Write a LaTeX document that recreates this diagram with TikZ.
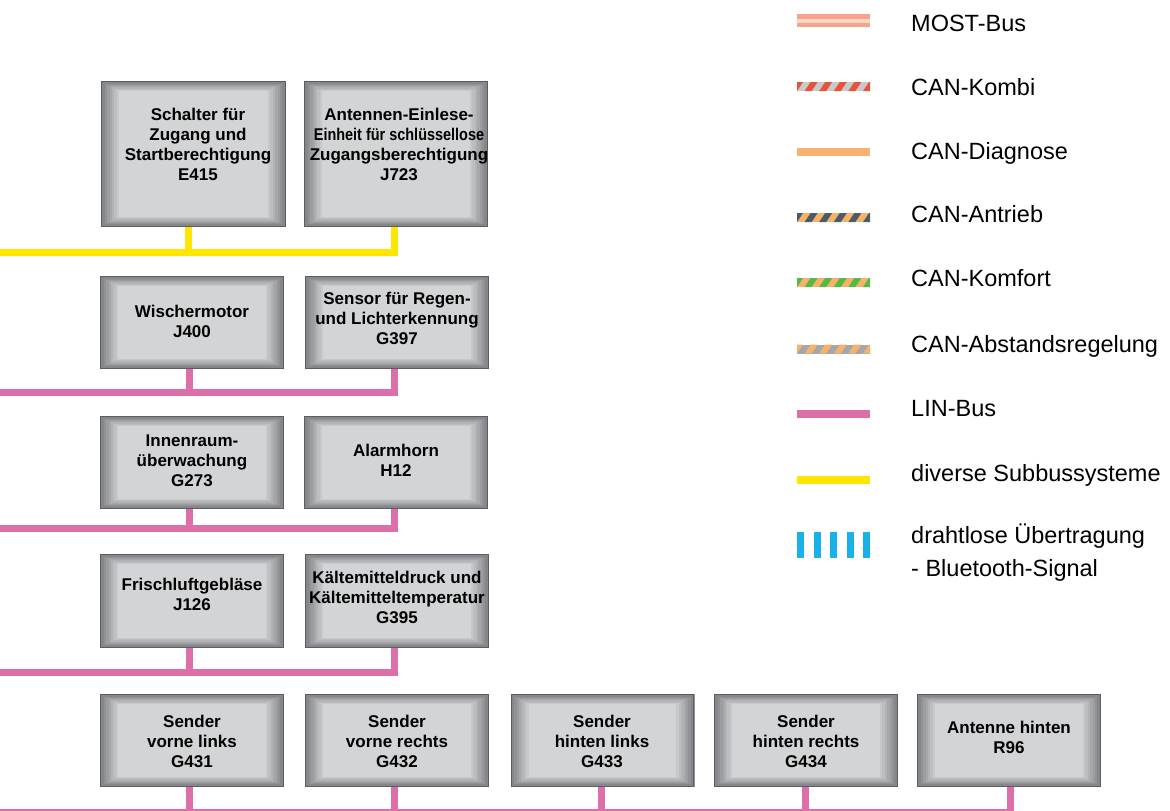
\documentclass[tikz,border=0pt]{standalone}
\usepackage{fontspec}
\setmainfont{Liberation Sans}
\usetikzlibrary{calc}
\definecolor{boxedge}{HTML}{5C5D60}
\definecolor{bevdark}{HTML}{86878A}
\definecolor{boxin}{HTML}{D3D4D6}
\definecolor{linpink}{HTML}{DC6EAA}
\definecolor{subyellow}{HTML}{FFE600}
\definecolor{mostsal}{HTML}{F4A48B}
\definecolor{mostlight}{HTML}{FBD5C8}
\definecolor{kombired}{HTML}{E5533D}
\definecolor{kombigray}{HTML}{C9C9C9}
\definecolor{canorange}{HTML}{F4B26A}
\definecolor{diagorange}{HTML}{F7B36F}
\definecolor{antdark}{HTML}{4E5A66}
\definecolor{komgreen}{HTML}{55B848}
\definecolor{absgray}{HTML}{A3A7AD}
\definecolor{btblue}{HTML}{18B2E8}
\newcommand{\stripesw}[3]{%
  \begin{scope}
    \clip (797,#1-4.5) rectangle (870,#1+4.5);
    \fill[#2] (797,#1-4.5) rectangle (870,#1+4.5);
    \foreach \s in {0,...,6}
      \fill[#3] (790+\s*14.6,#1+4.5) -- ++(7,0) -- ++(6,-9) -- ++(-7,0) -- cycle;
  \end{scope}}
\tikzset{
  ecu/.style={minimum width=184pt, minimum height=93pt, inner sep=0pt,
    path picture={
      \fill[boxedge] (path picture bounding box.south west) rectangle (path picture bounding box.north east);
      \foreach \i [evaluate=\i as \p using int(\i*100/7)] in {0,...,7}{
        \fill[boxin!\p!bevdark]
          ([shift={(1.3pt+\i*2.4pt,1.3pt+\i*1.25pt)}]path picture bounding box.south west) rectangle
          ([shift={(-1.3pt-\i*2.4pt,-1.3pt-\i*1.25pt)}]path picture bounding box.north east);
      }
    }},
  boxtxt/.style={font=\bfseries\fontsize{17}{20}\selectfont, align=center, inner sep=0pt},
  legtxt/.style={font=\fontsize{23.5}{33}\selectfont, anchor=base west, inner sep=0pt},
  linbus/.style={draw=linpink, line width=7pt, line join=miter},
  subbus/.style={draw=subyellow, line width=7pt, line join=miter}
}
\begin{document}
\begin{tikzpicture}[x=1pt,y=-1pt]
\useasboundingbox (0,0) rectangle (1170,811);
\fill[white] (0,0) rectangle (1170,811);

% ---------- boxes ----------
\node[ecu, minimum width=185pt, minimum height=146pt] (A1) at (193.5,154) {};
\node[ecu, minimum height=146pt] (A2) at (396,154) {};
\node[ecu] (B1) at (192,322.5) {};
\node[ecu] (B2) at (397,322.5) {};
\node[ecu] (C1) at (192,462.5) {};
\node[ecu] (C2) at (396,462.5) {};
\node[ecu, minimum height=94pt] (D1) at (192,601) {};
\node[ecu, minimum height=94pt] (D2) at (397,601) {};
\node[ecu] (E1) at (192,740.5) {};
\node[ecu] (E2) at (397,740.5) {};
\node[ecu] (E3) at (602.5,740.5) {};
\node[ecu] (E4) at (806,740.5) {};
\node[ecu] (E5) at (1009,740.5) {};

% ---------- box texts ----------
\node[boxtxt] (tA1) at (198,144) {Schalter für\\Zugang und\\Startberechtigung\\E415};
\node[boxtxt] (tA2) at (399,144) {Antennen-Einlese-\\\scalebox{0.85}[1]{Einheit für schlüssellose}\\Zugangsberechtigung\\J723};
\node[boxtxt] (tB1) at (192,321) {Wischermotor\\J400};
\node[boxtxt] (tB2) at (397,318) {Sensor für Regen-\\und Lichterkennung\\G397};
\node[boxtxt] (tC1) at (192,461) {Innenraum-\\überwachung\\G273};
\node[boxtxt] (tC2) at (396,460) {Alarmhorn\\H12};
\node[boxtxt] (tD1) at (192,594) {Frischluftgebläse\\J126};
\node[boxtxt] (tD2) at (397,597) {Kältemitteldruck und\\Kältemitteltemperatur\\G395};
\node[boxtxt] (tE1) at (192,741) {Sender\\vorne links\\G431};
\node[boxtxt] (tE2) at (397,741) {Sender\\vorne rechts\\G432};
\node[boxtxt] (tE3) at (602,741) {Sender\\hinten links\\G433};
\node[boxtxt] (tE4) at (806,741) {Sender\\hinten rechts\\G434};
\node[boxtxt] (tE5) at (1009,737) {Antenne hinten\\R96};

% ---------- buses ----------
\coordinate (busA) at (0,252.5);
\coordinate (busB) at (0,392.5);
\coordinate (busC) at (0,528.5);
\coordinate (busD) at (0,672.5);
\coordinate (busE) at (0,812);

\draw[subbus] (busA) -| ([xshift=-2pt]A2.south);
\draw[subbus] ([xshift=-5.5pt]A1.south) -- ([xshift=-5.5pt]A1.south |- busA);

\draw[linbus] (busB) -| ([xshift=-3pt]B2.south);
\draw[linbus] ([xshift=-3pt]B1.south) -- ([xshift=-3pt]B1.south |- busB);

\draw[linbus] (busC) -| ([xshift=-2pt]C2.south);
\draw[linbus] ([xshift=-3pt]C1.south) -- ([xshift=-3pt]C1.south |- busC);

\draw[linbus] (busD) -| ([xshift=-3pt]D2.south);
\draw[linbus] ([xshift=-3pt]D1.south) -- ([xshift=-3pt]D1.south |- busD);

\draw[linbus] (busE) -| ([xshift=1pt]E5.south);
\draw[linbus] ([xshift=-3pt]E1.south) -- ([xshift=-3pt]E1.south |- busE);
\draw[linbus] ([xshift=-3pt]E2.south) -- ([xshift=-3pt]E2.south |- busE);
\draw[linbus] ([xshift=-1.5pt]E3.south) -- ([xshift=-1.5pt]E3.south |- busE);
\draw[linbus] ([xshift=-1pt]E4.south) -- ([xshift=-1pt]E4.south |- busE);

% ---------- legend ----------
\fill[mostsal] (797,14) rectangle (870,27);
\fill[mostlight] (797,18.5) rectangle (870,22.5);
\stripesw{86.5}{kombigray}{kombired}
\fill[diagorange] (797,148) rectangle (870,156);
\stripesw{217.5}{canorange}{antdark}
\stripesw{282.5}{canorange}{komgreen}
\stripesw{349}{absgray}{canorange}
\fill[linpink] (797,410) rectangle (870,418);
\fill[subyellow] (797,476) rectangle (870,484);
\foreach \bx in {797,813.5,830,846.5,863}
  \fill[btblue] (\bx,532) rectangle (\bx+7,558);

\node[legtxt] (l1) at (911,31.7) {MOST-Bus};
\node[legtxt] (l2) at (911,95.7) {CAN-Kombi};
\node[legtxt] (l3) at (911,159) {CAN-Diagnose};
\node[legtxt] (l4) at (911,222.7) {CAN-Antrieb};
\node[legtxt] (l5) at (911,286.7) {CAN-Komfort};
\node[legtxt] (l6) at (911,352.7) {CAN-Abstandsregelung};
\node[legtxt] (l7) at (911,416.7) {LIN-Bus};
\node[legtxt] (l8) at (911,481.7) {diverse Subbussysteme};
\node[legtxt] (l9) at (911,543.3) {drahtlose Übertragung};
\node[legtxt] (l10) at (911,576.7) {- Bluetooth-Signal};
\end{tikzpicture}
\end{document}
